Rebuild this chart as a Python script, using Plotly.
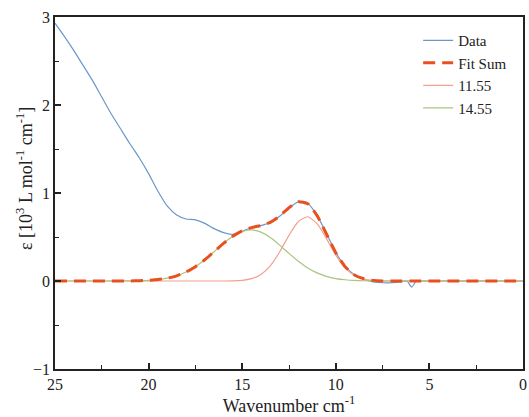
import plotly.graph_objects as go

# Wavenumber grid (cm^-1), 25 down to 0 in steps of 0.5
wavenumber = [25 - 0.5 * i for i in range(51)]

# Measured spectrum
data_wn = [25, 24.5, 24, 23.5, 23, 22.5, 22, 21.5, 21, 20.5, 20, 19.5, 19, 18.5,
           18, 17.5, 17, 16.5, 16, 15.5, 15, 14.5, 14, 13.5, 13, 12.5, 12, 11.5,
           11, 10.5, 10, 9.5, 9, 8.5, 8, 7.5, 7, 6.5, 6.2, 5.95, 5.7, 5.5, 5, 4.5,
           4, 3.5, 3, 2.5, 2, 1.5, 1, 0.5, 0]
data_eps = [2.93, 2.78, 2.62, 2.45, 2.28, 2.09, 1.90, 1.73, 1.56, 1.40, 1.22, 1.02,
            0.85, 0.75, 0.705, 0.695, 0.655, 0.595, 0.55, 0.53, 0.565, 0.605, 0.63,
            0.665, 0.735, 0.83, 0.90, 0.88, 0.745, 0.54, 0.325, 0.165, 0.07, 0.02,
            -0.01, -0.02, -0.02, -0.01, 0.0, -0.07, 0.0, 0.0, 0.0, 0.0, 0.0, 0.0,
            0.0, 0.0, 0.0, 0.0, 0.0, 0.0, 0.0]

# Fitted band at 11.55
band_1155 = [0, 0, 0, 0, 0, 0, 0, 0, 0, 0, 0, 0, 0, 0, 0, 0, 0, 0, 0, 0.001,
             0.008, 0.027, 0.075, 0.173, 0.33, 0.519, 0.676, 0.73, 0.651, 0.481,
             0.294, 0.149, 0.062, 0.022, 0.006, 0.001, 0, 0, 0, 0, 0, 0, 0, 0, 0,
             0, 0, 0, 0, 0, 0]

# Fitted band at 14.55
band_1455 = [0, 0, 0, 0, 0, 0, 0, 0, 0.001, 0.003, 0.008, 0.016, 0.032, 0.059,
             0.102, 0.163, 0.241, 0.333, 0.427, 0.508, 0.563, 0.58, 0.555, 0.494,
             0.408, 0.314, 0.225, 0.149, 0.092, 0.053, 0.028, 0.014, 0.006, 0.003,
             0.001, 0, 0, 0, 0, 0, 0, 0, 0, 0, 0, 0, 0, 0, 0, 0, 0]

# Sum of the fitted bands
fit_sum = [0, 0, 0, 0, 0, 0, 0, 0, 0.001, 0.003, 0.008, 0.016, 0.032, 0.059,
           0.102, 0.163, 0.241, 0.333, 0.427, 0.509, 0.571, 0.607, 0.63, 0.667,
           0.738, 0.833, 0.901, 0.879, 0.743, 0.534, 0.322, 0.163, 0.068, 0.025,
           0.007, 0.001, 0, 0, 0, 0, 0, 0, 0, 0, 0, 0, 0, 0, 0, 0, 0]

font = "Liberation Serif, Times New Roman, serif"

fig = go.Figure()
fig.add_trace(go.Scatter(x=data_wn, y=data_eps, mode="lines", name="Data",
                         line=dict(color="#6b97c9", width=1.2, shape="spline", smoothing=0.6),
                         legendrank=1))
fig.add_trace(go.Scatter(x=wavenumber, y=band_1155, mode="lines", name="11.55",
                         line=dict(color="#f4a08c", width=1.2, shape="spline", smoothing=0.6),
                         legendrank=3))
fig.add_trace(go.Scatter(x=wavenumber, y=band_1455, mode="lines", name="14.55",
                         line=dict(color="#a9c47f", width=1.2, shape="spline", smoothing=0.6),
                         legendrank=4))
fig.add_trace(go.Scatter(x=wavenumber, y=fit_sum, mode="lines", name="Fit Sum",
                         line=dict(color="#e8501e", width=3, dash="12px,7px",
                                   shape="spline", smoothing=0.6),
                         legendrank=2))

axis_common = dict(
    showline=True, linecolor="#222", linewidth=1.5, mirror=True,
    ticks="inside", ticklen=6, tickwidth=1.5, tickcolor="#222",
    showgrid=False, zeroline=False,
    tickfont=dict(family=font, size=16, color="#222"),
)

fig.update_xaxes(range=[25, 0], dtick=5, tick0=0,
                 minor=dict(dtick=2.5, ticks="inside", ticklen=4, tickwidth=1.2, tickcolor="#222"),
                 title=dict(text="Wavenumber cm<sup>-1</sup>",
                            font=dict(family=font, size=18, color="#222"), standoff=2),
                 **axis_common)
fig.update_yaxes(range=[-1, 3], dtick=1, tick0=0,
                 minor=dict(dtick=0.5, ticks="inside", ticklen=4, tickwidth=1.2, tickcolor="#222"),
                 **axis_common)

# y-axis title placed as a rotated annotation close to the tick labels
fig.add_annotation(
    text="ε [10<sup>3</sup> L mol<sup>-1</sup> cm<sup>-1</sup>]",
    xref="paper", yref="paper", x=-0.064, y=0.54,
    xanchor="center", yanchor="middle", textangle=-90, showarrow=False,
    font=dict(family=font, size=18, color="#222"),
)

fig.update_layout(
    width=529, height=417,
    margin=dict(l=55, r=2, t=17, b=48),
    paper_bgcolor="white", plot_bgcolor="white",
    showlegend=True,
    legend=dict(x=0.776, y=0.98, xanchor="left", yanchor="top",
                bgcolor="rgba(0,0,0,0)", tracegroupgap=0,
                font=dict(family=font, size=15, color="#222")),
)

fig.write_html("out.html")
